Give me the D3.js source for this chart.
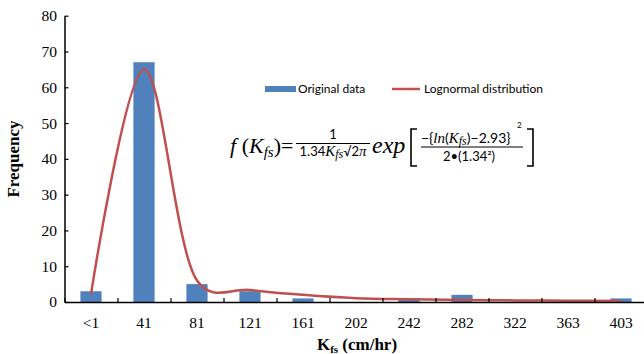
<!DOCTYPE html>
<html>
<head>
<meta charset="utf-8">
<script src="https://cdn.jsdelivr.net/npm/d3@7"></script>
<style>
  html, body { margin: 0; padding: 0; background: #fff; }
  svg { display: block; }
</style>
</head>
<body>
<div id="chart"></div>
<script>
const categories = ['<1', '41', '81', '121', '161', '202', '242', '282', '322', '363', '403'];
const frequency = [3, 67, 5, 3, 1, 0, 1, 2, 0, 0, 1];
const lognormal = [2.2, 65, 6, 3.35, 2.0, 1.05, 0.75, 0.55, 0.45, 0.35, 0.3];
const yTicks = [0, 10, 20, 30, 40, 50, 60, 70, 80];

const BAR = '#4f81bd';
const LINE = '#c0504d';
const SERIF = '"Liberation Serif", "Times New Roman", serif';
const SANS = 'Lato, "Open Sans", sans-serif';

const w = 644;
const h = 354;
const plot = { left: 64.5, right: 647.5, top: 15.7, bottom: 302 };

const svg = d3.select('#chart').append('svg').attr('width', w).attr('height', h);

const x = d3.scaleBand().domain(categories).range([plot.left, plot.right])
  .paddingInner(0.6).paddingOuter(0.3);
const xEdge = d3.scaleLinear().domain([0, categories.length]).range([plot.left, plot.right]);
const y = d3.scaleLinear().domain([0, 80]).range([plot.bottom, plot.top]);

// bars
svg.append('g')
  .selectAll('rect')
  .data(categories)
  .join('rect')
  .attr('x', (d) => x(d))
  .attr('y', (d, i) => y(frequency[i]))
  .attr('width', x.bandwidth())
  .attr('height', (d, i) => y(0) - y(frequency[i]))
  .attr('fill', BAR);

// smoothed lognormal line
const line = d3.line()
  .x((d, i) => x(categories[i]) + x.bandwidth() / 2)
  .y((d) => y(d))
  .curve(d3.curveCatmullRom.alpha(0.25));
svg.append('path')
  .datum(lognormal)
  .attr('d', line)
  .attr('fill', 'none')
  .attr('stroke', LINE)
  .attr('stroke-width', 2.5);

// y axis
const yAxis = svg.append('g')
  .attr('transform', `translate(${plot.left},0)`)
  .call(d3.axisLeft(y).tickValues(yTicks).tickSize(-4).tickPadding(7.5).tickSizeOuter(0));
yAxis.select('.domain').attr('stroke', '#000').attr('stroke-width', 1.5);
yAxis.selectAll('.tick line').attr('stroke', '#000').attr('stroke-width', 1.2);
yAxis.selectAll('.tick text')
  .attr('font-family', SERIF).attr('font-size', 15.5).attr('fill', '#000');

// x axis: tick marks at category boundaries, labels at centres
const xTickAxis = svg.append('g')
  .attr('transform', `translate(0,${plot.bottom})`)
  .call(d3.axisBottom(xEdge).tickValues(d3.range(0, categories.length + 1)).tickSize(-4).tickFormat('').tickSizeOuter(0));
xTickAxis.select('.domain').attr('stroke', '#000').attr('stroke-width', 1.5);
xTickAxis.selectAll('.tick line').attr('stroke', '#000').attr('stroke-width', 1.2);

const xLabels = svg.append('g')
  .attr('transform', `translate(0,${plot.bottom})`)
  .call(d3.axisBottom(x).tickSize(0).tickPadding(15));
xLabels.select('.domain').remove();
xLabels.selectAll('.tick text')
  .attr('font-family', SERIF).attr('font-size', 15.5).attr('fill', '#000');

// axis titles
svg.append('text')
  .attr('transform', 'translate(19,159) rotate(-90)')
  .attr('text-anchor', 'middle')
  .attr('font-family', SERIF).attr('font-size', 17).attr('font-weight', 700)
  .text('Frequency');

const xt = svg.append('text')
  .attr('x', 357).attr('y', 350)
  .attr('text-anchor', 'middle')
  .attr('font-family', SERIF).attr('font-size', 17).attr('font-weight', 700);
xt.append('tspan').text('K');
xt.append('tspan').attr('font-size', 11).attr('dy', 3).text('fs');
xt.append('tspan').attr('dy', -3).text(' (cm/hr)');

// legend
const legend = svg.append('g').attr('font-family', SANS).attr('font-size', 12).attr('fill', '#000');
legend.append('rect').attr('x', 265).attr('y', 86).attr('width', 31).attr('height', 6).attr('fill', BAR);
legend.append('text').attr('x', 298).attr('y', 93).text('Original data');
legend.append('line').attr('x1', 392).attr('x2', 420).attr('y1', 89).attr('y2', 89)
  .attr('stroke', LINE).attr('stroke-width', 2.5);
legend.append('text').attr('x', 424).attr('y', 93).text('Lognormal distribution');

// formula
const f = svg.append('g').attr('fill', '#000');
const lhs = f.append('text').attr('x', 230).attr('y', 153)
  .attr('font-family', SERIF).attr('font-size', 22);
lhs.append('tspan').attr('font-style', 'italic').text('f');
lhs.append('tspan').text(' (');
lhs.append('tspan').attr('font-style', 'italic').text('K');
lhs.append('tspan').attr('font-style', 'italic').attr('font-size', 15).attr('dy', 4).text('fs');
lhs.append('tspan').attr('dy', -4).text(')=');

f.append('text').attr('x', 333).attr('y', 139).attr('text-anchor', 'middle')
  .attr('font-family', SANS).attr('font-size', 13).text('1');
f.append('line').attr('x1', 296).attr('x2', 370).attr('y1', 143.5).attr('y2', 143.5)
  .attr('stroke', '#000').attr('stroke-width', 1);
const den1 = f.append('text').attr('x', 333).attr('y', 156).attr('text-anchor', 'middle')
  .attr('font-family', SANS).attr('font-size', 13);
den1.append('tspan').text('1.34');
den1.append('tspan').attr('font-family', SERIF).attr('font-style', 'italic').attr('font-size', 15).text('K');
den1.append('tspan').attr('font-family', SERIF).attr('font-style', 'italic').attr('font-size', 12).attr('dy', 2).text('fs');
den1.append('tspan').attr('dy', -2).text('√2');
den1.append('tspan').attr('font-family', SERIF).attr('font-style', 'italic').attr('font-size', 15).text('π');

f.append('text').attr('x', 372).attr('y', 153)
  .attr('font-family', SERIF).attr('font-style', 'italic').attr('font-size', 24).text('exp');

f.append('path').attr('d', 'M417,129 H411 V166 H417').attr('fill', 'none')
  .attr('stroke', '#000').attr('stroke-width', 1.6);
f.append('path').attr('d', 'M527,129 H533 V166 H527').attr('fill', 'none')
  .attr('stroke', '#000').attr('stroke-width', 1.6);

const num = f.append('text').attr('x', 421).attr('y', 143)
  .attr('font-family', SANS).attr('font-size', 14);
num.append('tspan').text('−{');
num.append('tspan').attr('font-family', SERIF).attr('font-style', 'italic').attr('font-size', 15).text('ln');
num.append('tspan').text('(');
num.append('tspan').attr('font-family', SERIF).attr('font-style', 'italic').attr('font-size', 15).text('K');
num.append('tspan').attr('font-family', SERIF).attr('font-style', 'italic').attr('font-size', 12).attr('dy', 2).text('fs');
num.append('tspan').attr('dy', -2).text(')−2.93}');
f.append('text').attr('x', 517).attr('y', 128)
  .attr('font-family', SANS).attr('font-size', 8).text('2');
f.append('line').attr('x1', 421).attr('x2', 523).attr('y1', 147).attr('y2', 147)
  .attr('stroke', '#000').attr('stroke-width', 1);
f.append('text').attr('x', 469).attr('y', 161).attr('text-anchor', 'middle')
  .attr('font-family', SANS).attr('font-size', 13).text('2•(1.34²)');
</script>
</body>
</html>
